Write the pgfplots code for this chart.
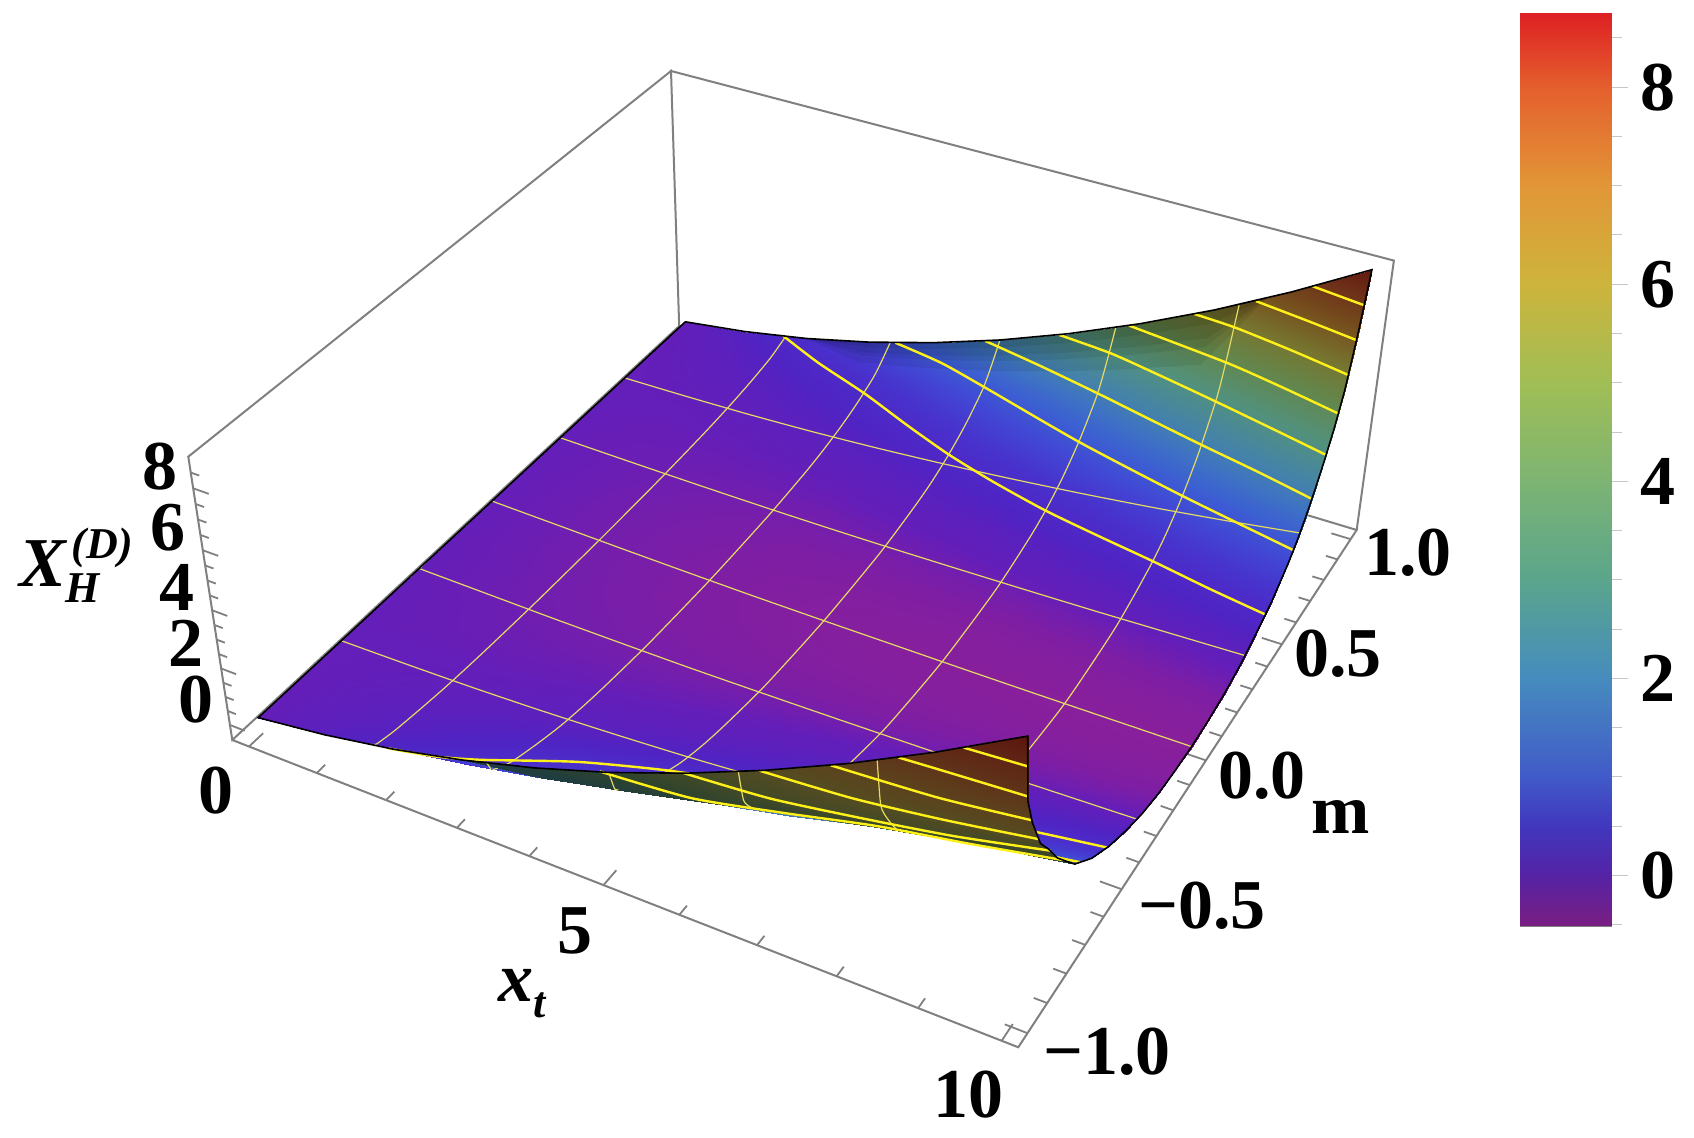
\documentclass[border=0pt]{standalone}
\usepackage{fontspec}
\setmainfont{Liberation Serif}
\usepackage{pgfplots}
\usepackage{pgfplotstable}
\pgfplotsset{compat=1.18}
\definecolor{boxgray}{RGB}{128,128,128}
\definecolor{thinY}{RGB}{228,218,100}
\definecolor{thickY}{RGB}{255,240,25}
\pgfplotsset{
 colormap={topmap}{rgb255(0pt)=(142,32,150) rgb255(2pt)=(125,30,165) rgb255(4pt)=(100,30,185) rgb255(8pt)=(80,35,195) rgb255(13pt)=(72,50,205) rgb255(18pt)=(65,72,212) rgb255(23pt)=(60,95,210) rgb255(28pt)=(62,115,195) rgb255(33pt)=(68,130,170) rgb255(43pt)=(82,145,125) rgb255(53pt)=(98,135,78) rgb255(63pt)=(118,118,48) rgb255(73pt)=(118,82,30) rgb255(83pt)=(110,50,25) rgb255(92pt)=(100,22,15)},
 colormap={flapmap}{rgb255(0pt)=(35,55,95) rgb255(13pt)=(32,58,78) rgb255(23pt)=(32,62,62) rgb255(33pt)=(48,68,45) rgb255(43pt)=(68,74,38) rgb255(53pt)=(85,75,32) rgb255(63pt)=(92,65,28) rgb255(73pt)=(95,50,25) rgb255(83pt)=(95,35,20) rgb255(92pt)=(92,22,14)},
 colormap={barmap}{rgb255(0pt)=(122,30,130) rgb255(5pt)=(85,35,165) rgb255(10pt)=(65,55,190) rgb255(15pt)=(65,90,200) rgb255(25pt)=(70,140,190) rgb255(35pt)=(90,165,140) rgb255(45pt)=(125,180,115) rgb255(55pt)=(160,190,85) rgb255(65pt)=(205,180,60) rgb255(75pt)=(226,150,55) rgb255(85pt)=(228,95,45) rgb255(92pt)=(222,32,36)},
}
\newcommand{\PX}{(542.276+64.105*\thisrow{x}+284.14*\thisrow{m}-6.004*\thisrow{z})/(1.10188-0.010939*\thisrow{x}+0.103831*\thisrow{m}-0.007394*\thisrow{z})}
\newcommand{\PY}{(555.062+17.961*\thisrow{x}-163.98*\thisrow{m}-33.071*\thisrow{z})/(1.10188-0.010939*\thisrow{x}+0.103831*\thisrow{m}-0.007394*\thisrow{z})}
\newcommand{\bigf}{\fontsize{35}{35}\selectfont\bfseries}
\newcommand{\subf}{\fontsize{22}{22}\selectfont}
\pgfplotstableread[row sep=\\]{
x m z\\
0 1 0.1\\1 1 0.42\\2 1 0.86\\3 1 1.43\\4 1 2.12\\5 1 2.93\\6 1 3.87\\7 1 4.93\\8 1 6.11\\9 1 7.42\\10 1 8.85\\
0 0.95 0.1\\1 0.95 0.34\\2 0.95 0.67\\3 0.95 1.11\\4 0.95 1.65\\5 0.95 2.29\\6 0.95 3.03\\7 0.95 3.86\\8 0.95 4.80\\9 0.95 5.84\\10 0.95 6.97\\
0 0.9 0.1\\1 0.9 0.27\\2 0.9 0.52\\3 0.9 0.85\\4 0.9 1.26\\5 0.9 1.75\\6 0.9 2.33\\7 0.9 2.98\\8 0.9 3.71\\9 0.9 4.53\\10 0.9 5.42\\
0 0.85 0.1\\1 0.85 0.23\\2 0.85 0.42\\3 0.85 0.68\\4 0.85 1.01\\5 0.85 1.41\\6 0.85 1.88\\7 0.85 2.42\\8 0.85 3.02\\9 0.85 3.69\\10 0.85 4.42\\
0 0.8 0.1\\1 0.8 0.20\\2 0.8 0.34\\3 0.8 0.55\\4 0.8 0.82\\5 0.8 1.14\\6 0.8 1.53\\7 0.8 1.97\\8 0.8 2.47\\9 0.8 3.03\\10 0.8 3.64\\
0 0.75 0.1\\1 0.75 0.17\\2 0.75 0.28\\3 0.75 0.44\\4 0.75 0.65\\5 0.75 0.91\\6 0.75 1.23\\7 0.75 1.59\\8 0.75 2.0\\9 0.75 2.46\\10 0.75 2.97\\
0 0.7 0.1\\1 0.7 0.14\\2 0.7 0.22\\3 0.7 0.34\\4 0.7 0.50\\5 0.7 0.71\\6 0.7 0.96\\7 0.7 1.25\\8 0.7 1.58\\9 0.7 1.96\\10 0.7 2.37\\
0 0.65 0.1\\1 0.65 0.12\\2 0.65 0.17\\3 0.65 0.25\\4 0.65 0.37\\5 0.65 0.54\\6 0.65 0.74\\7 0.65 0.97\\8 0.65 1.23\\9 0.65 1.54\\10 0.65 1.87\\
0 0.6 0.1\\1 0.6 0.10\\2 0.6 0.13\\3 0.6 0.19\\4 0.6 0.27\\5 0.6 0.40\\6 0.6 0.56\\7 0.6 0.74\\8 0.6 0.96\\9 0.6 1.20\\10 0.6 1.47\\
0 0.5 0.1\\1 0.5 0.08\\2 0.5 0.07\\3 0.5 0.09\\4 0.5 0.12\\5 0.5 0.20\\6 0.5 0.29\\7 0.5 0.40\\8 0.5 0.54\\9 0.5 0.70\\10 0.5 0.87\\
0 0.4 0.1\\1 0.4 0.06\\2 0.4 0.03\\3 0.4 0.02\\4 0.4 0.02\\5 0.4 0.06\\6 0.4 0.11\\7 0.4 0.17\\8 0.4 0.25\\9 0.4 0.35\\10 0.4 0.46\\
0 0.3 0.1\\1 0.3 0.05\\2 0.3 0\\3 0.3 -0.04\\4 0.3 -0.06\\5 0.3 -0.06\\6 0.3 -0.04\\7 0.3 -0.02\\8 0.3 0.02\\9 0.3 0.07\\10 0.3 0.13\\
0 0.2 0.1\\1 0.2 0.04\\2 0.2 -0.03\\3 0.2 -0.07\\4 0.2 -0.11\\5 0.2 -0.13\\6 0.2 -0.13\\7 0.2 -0.14\\8 0.2 -0.13\\9 0.2 -0.10\\10 0.2 -0.08\\
0 0.1 0.1\\1 0.1 0.03\\2 0.1 -0.04\\3 0.1 -0.09\\4 0.1 -0.14\\5 0.1 -0.17\\6 0.1 -0.18\\7 0.1 -0.2\\8 0.1 -0.2\\9 0.1 -0.2\\10 0.1 -0.19\\
0 0 0.1\\1 0 0.03\\2 0 -0.04\\3 0 -0.1\\4 0 -0.15\\5 0 -0.18\\6 0 -0.2\\7 0 -0.22\\8 0 -0.23\\9 0 -0.23\\10 0 -0.23\\
0 -0.1 0.1\\1 -0.1 0.03\\2 -0.1 -0.04\\3 -0.1 -0.1\\4 -0.1 -0.14\\5 -0.1 -0.17\\6 -0.1 -0.19\\7 -0.1 -0.2\\8 -0.1 -0.21\\9 -0.1 -0.21\\10 -0.1 -0.2\\
0 -0.2 0.1\\1 -0.2 0.04\\2 -0.2 -0.03\\3 -0.2 -0.08\\4 -0.2 -0.12\\5 -0.2 -0.14\\6 -0.2 -0.15\\7 -0.2 -0.15\\8 -0.2 -0.14\\9 -0.2 -0.13\\10 -0.2 -0.11\\
0 -0.3 0.1\\1 -0.3 0.04\\2 -0.3 -0.01\\3 -0.3 -0.05\\4 -0.3 -0.08\\5 -0.3 -0.08\\6 -0.3 -0.07\\7 -0.3 -0.05\\8 -0.3 -0.02\\9 -0.3 0.02\\10 -0.3 0.07\\
0 -0.4 0.1\\1 -0.4 0.06\\2 -0.4 0.02\\3 -0.4 0\\4 -0.4 0\\5 -0.4 0.03\\6 -0.4 0.07\\7 -0.4 0.13\\8 -0.4 0.19\\9 -0.4 0.28\\10 -0.4 0.38\\
0 -0.5 0.1\\1 -0.5 0.07\\2 -0.5 0.06\\3 -0.5 0.07\\4 -0.5 0.10\\5 -0.5 0.16\\6 -0.5 0.25\\7 -0.5 0.35\\8 -0.5 0.47\\9 -0.5 0.61\\10 -0.5 0.77\\
0 -0.6 0.1\\1 -0.6 0.10\\2 -0.6 0.11\\3 -0.6 0.16\\4 -0.6 0.23\\5 -0.6 0.34\\6 -0.6 0.48\\7 -0.6 0.65\\8 -0.6 0.84\\9 -0.6 1.06\\10 -0.6 1.30\\
0 -0.65 0.1\\1 -0.65 0.11\\2 -0.65 0.15\\3 -0.65 0.22\\4 -0.65 0.32\\5 -0.65 0.47\\6 -0.65 0.65\\7 -0.65 0.86\\8 -0.65 1.10\\9 -0.65 1.37\\10 -0.65 1.67\\
0 -0.7 0.1\\1 -0.7 0.13\\2 -0.7 0.19\\3 -0.7 0.28\\4 -0.7 0.42\\5 -0.7 0.60\\6 -0.7 0.82\\7 -0.7 1.07\\8 -0.7 1.36\\9 -0.7 1.69\\10 -0.7 2.05\\
0 -0.75 0.1\\1 -0.75 0.15\\2 -0.75 0.24\\3 -0.75 0.38\\4 -0.75 0.56\\5 -0.75 0.80\\6 -0.75 1.08\\7 -0.75 1.40\\8 -0.75 1.76\\9 -0.75 2.17\\10 -0.75 2.62\\
0 -0.8 0.1\\1 -0.8 0.18\\2 -0.8 0.30\\3 -0.8 0.48\\4 -0.8 0.71\\5 -0.8 1.0\\6 -0.8 1.34\\7 -0.8 1.73\\8 -0.8 2.17\\9 -0.8 2.66\\10 -0.8 3.2\\
0 -0.85 0.1\\1 -0.85 0.21\\2 -0.85 0.37\\3 -0.85 0.60\\4 -0.85 0.89\\5 -0.85 1.25\\6 -0.85 1.67\\7 -0.85 2.15\\8 -0.85 2.69\\9 -0.85 3.29\\10 -0.85 3.95\\
0 -0.9 0.1\\1 -0.9 0.24\\2 -0.9 0.44\\3 -0.9 0.72\\4 -0.9 1.06\\5 -0.9 1.48\\6 -0.9 1.97\\7 -0.9 2.53\\8 -0.9 3.16\\9 -0.9 3.86\\10 -0.9 4.62\\
0 -0.95 0.1\\1 -0.95 0.29\\2 -0.95 0.55\\3 -0.95 0.91\\4 -0.95 1.35\\5 -0.95 1.87\\6 -0.95 2.48\\7 -0.95 3.17\\8 -0.95 3.95\\9 -0.95 4.81\\10 -0.95 5.75\\
0 -0.98 0.1\\1 -0.98 0.33\\2 -0.98 0.65\\3 -0.98 1.07\\4 -0.98 1.58\\5 -0.98 2.19\\6 -0.98 2.91\\7 -0.98 3.71\\8 -0.98 4.61\\9 -0.98 5.61\\10 -0.98 6.7\\
0 -1 0.1\\1 -1 0.42\\2 -1 0.86\\3 -1 1.43\\4 -1 2.12\\5 -1 2.93\\6 -1 3.87\\7 -1 4.93\\8 -1 6.11\\9 -1 7.42\\10 -1 8.85\\
}\mainT
\pgfplotstableread[row sep=\\]{
x m z\\
3 -1 1.43\\4 -0.98 1.58\\5 -0.965 2.03\\6 -0.93 2.28\\7 -0.91 2.66\\8 -0.88 2.97\\9 -0.79 2.56\\10 -0.71 2.16\\
3 -1 1.43\\4 -0.983 1.66\\5 -0.97 2.08\\6 -0.94 2.38\\7 -0.92 2.79\\8 -0.9 3.16\\9 -0.82 2.91\\10 -0.75 2.62\\
3 -1 1.43\\4 -0.986 1.74\\5 -0.975 2.14\\6 -0.95 2.48\\7 -0.93 2.92\\8 -0.92 3.48\\9 -0.85 3.29\\10 -0.8 3.2\\
3 -1 1.43\\4 -0.989 1.82\\5 -0.98 2.19\\6 -0.96 2.62\\7 -0.94 3.04\\8 -0.94 3.79\\9 -0.9 3.86\\10 -0.85 3.95\\
3 -1 1.43\\4 -0.992 1.89\\5 -0.985 2.37\\6 -0.97 2.77\\7 -0.95 3.17\\8 -0.95 3.95\\9 -0.93 4.43\\10 -0.9 4.62\\
3 -1 1.43\\4 -0.995 1.97\\5 -0.99 2.56\\6 -0.975 2.84\\7 -0.965 3.44\\8 -0.97 4.39\\9 -0.95 4.81\\10 -0.95 5.75\\
3 -1 1.43\\4 -0.998 2.04\\5 -0.995 2.74\\6 -0.98 2.91\\7 -0.98 3.71\\8 -0.98 4.61\\9 -0.98 5.61\\10 -0.98 6.7\\
3 -1 1.43\\4 -1 2.12\\5 -1 2.93\\6 -1 3.87\\7 -1 4.93\\8 -1 6.11\\9 -1 7.42\\10 -1 8.85\\
}\flapT
\pgfkeys{/pgfplots/table/pr/.style={/pgfplots/table/x expr=\PX,/pgfplots/table/y expr=\PY,/pgfplots/table/row sep=\\}}
\pgfplotsset{
 thinl/.style={no marks,line width=0.6pt,color=thinY,smooth,tension=0.4},
 thickl/.style={no marks,line width=1.2pt,color=thickY,smooth,tension=0.4},
 edgel/.style={no marks,line width=0.8pt,color=black},
 shade/.style={no marks,draw=none,fill=black,fill opacity=0.07},
}
\begin{document}
\begin{tikzpicture}
\useasboundingbox (0,0) rectangle (847pt,569pt);
\begin{axis}[scale only axis,width=847pt,height=569pt,xmin=0,xmax=1694,ymin=0,ymax=1138,y dir=reverse,hide axis,clip=false,point meta min=-0.3,point meta max=8.9,z buffer=none]
% box
\addplot[no marks,line width=1pt,color=boxgray] table[pr]{x m z\\
-0.25 -1.046 -0.541\\10.196 -1.046 -0.541\\10.196 1.046 -0.541\\-0.25 1.046 -0.541\\-0.25 -1.046 -0.541\\-0.25 -1.046 9\\-0.25 1.046 9\\-0.25 1.046 -0.541\\-0.25 1.046 9\\10.196 1.046 9\\10.196 1.046 -0.541\\};
% ticks
\addplot[no marks,line width=0.9pt,color=boxgray,unbounded coords=jump] table[pr]{x m z\\
0 -1.046 -0.541\\0 -0.991 -0.541\\nan nan nan\\1 -1.046 -0.541\\1 -1.013 -0.541\\nan nan nan\\2 -1.046 -0.541\\2 -1.013 -0.541\\nan nan nan\\3 -1.046 -0.541\\3 -1.013 -0.541\\nan nan nan\\4 -1.046 -0.541\\4 -1.013 -0.541\\nan nan nan\\5 -1.046 -0.541\\5 -0.991 -0.541\\nan nan nan\\6 -1.046 -0.541\\6 -1.013 -0.541\\nan nan nan\\7 -1.046 -0.541\\7 -1.013 -0.541\\nan nan nan\\8 -1.046 -0.541\\8 -1.013 -0.541\\nan nan nan\\9 -1.046 -0.541\\9 -1.013 -0.541\\nan nan nan\\10 -1.046 -0.541\\10 -0.991 -0.541\\nan nan nan\\
10.196 -1 -0.541\\9.926 -1 -0.541\\nan nan nan\\10.196 -0.9 -0.541\\10.036 -0.9 -0.541\\nan nan nan\\10.196 -0.8 -0.541\\10.036 -0.8 -0.541\\nan nan nan\\10.196 -0.7 -0.541\\10.036 -0.7 -0.541\\nan nan nan\\10.196 -0.6 -0.541\\10.036 -0.6 -0.541\\nan nan nan\\10.196 -0.5 -0.541\\9.926 -0.5 -0.541\\nan nan nan\\10.196 -0.4 -0.541\\10.036 -0.4 -0.541\\nan nan nan\\10.196 -0.3 -0.541\\10.036 -0.3 -0.541\\nan nan nan\\10.196 -0.2 -0.541\\10.036 -0.2 -0.541\\nan nan nan\\10.196 -0.1 -0.541\\10.036 -0.1 -0.541\\nan nan nan\\10.196 0 -0.541\\9.926 0 -0.541\\nan nan nan\\10.196 0.1 -0.541\\10.036 0.1 -0.541\\nan nan nan\\10.196 0.2 -0.541\\10.036 0.2 -0.541\\nan nan nan\\10.196 0.3 -0.541\\10.036 0.3 -0.541\\nan nan nan\\10.196 0.4 -0.541\\10.036 0.4 -0.541\\nan nan nan\\10.196 0.5 -0.541\\9.926 0.5 -0.541\\nan nan nan\\10.196 0.6 -0.541\\10.036 0.6 -0.541\\nan nan nan\\10.196 0.7 -0.541\\10.036 0.7 -0.541\\nan nan nan\\10.196 0.8 -0.541\\10.036 0.8 -0.541\\nan nan nan\\10.196 0.9 -0.541\\10.036 0.9 -0.541\\nan nan nan\\10.196 1 -0.541\\9.926 1 -0.541\\nan nan nan\\
-0.25 -1.046 0\\-0.03 -1.046 0\\nan nan nan\\-0.25 -1.046 0.5\\-0.13 -1.046 0.5\\nan nan nan\\-0.25 -1.046 1\\-0.13 -1.046 1\\nan nan nan\\-0.25 -1.046 1.5\\-0.13 -1.046 1.5\\nan nan nan\\-0.25 -1.046 2\\-0.03 -1.046 2\\nan nan nan\\-0.25 -1.046 2.5\\-0.13 -1.046 2.5\\nan nan nan\\-0.25 -1.046 3\\-0.13 -1.046 3\\nan nan nan\\-0.25 -1.046 3.5\\-0.13 -1.046 3.5\\nan nan nan\\-0.25 -1.046 4\\-0.03 -1.046 4\\nan nan nan\\-0.25 -1.046 4.5\\-0.13 -1.046 4.5\\nan nan nan\\-0.25 -1.046 5\\-0.13 -1.046 5\\nan nan nan\\-0.25 -1.046 5.5\\-0.13 -1.046 5.5\\nan nan nan\\-0.25 -1.046 6\\-0.03 -1.046 6\\nan nan nan\\-0.25 -1.046 6.5\\-0.13 -1.046 6.5\\nan nan nan\\-0.25 -1.046 7\\-0.13 -1.046 7\\nan nan nan\\-0.25 -1.046 7.5\\-0.13 -1.046 7.5\\nan nan nan\\-0.25 -1.046 8\\-0.03 -1.046 8\\nan nan nan\\-0.25 -1.046 8.5\\-0.13 -1.046 8.5\\};
% surface, seen from above
\addplot[surf,shader=interp,colormap name=topmap,mesh/rows=30,point meta=\thisrow{z}] table[x expr=\PX,y expr=\PY]{\mainT};
% darker strips along the far edge
\addplot[shade] table[pr]{x m z\\2 1 0.86\\3 1 1.43\\4 1 2.12\\5 1 2.93\\6 1 3.87\\7 1 4.93\\8 1 6.11\\8.7 1 7.03\\8 0.94 4.58\\7 0.94 3.69\\6 0.94 2.89\\5 0.94 2.18\\4 0.94 1.57\\3 0.94 1.06\\2 1 0.86\\};
\addplot[shade] table[pr]{x m z\\2 1 0.86\\3 1 1.43\\4 1 2.12\\5 1 2.93\\6 1 3.87\\7 1 4.93\\8 1 6.11\\8.7 1 7.03\\8 0.96 5.06\\7 0.96 4.08\\6 0.96 3.19\\5 0.96 2.41\\4 0.96 1.74\\3 0.96 1.18\\2 1 0.86\\};
\addplot[shade] table[pr]{x m z\\2 1 0.86\\3 1 1.43\\4 1 2.12\\5 1 2.93\\6 1 3.87\\7 1 4.93\\8 1 6.11\\8.7 1 7.03\\8 0.97 5.32\\7 0.97 4.29\\6 0.97 3.37\\5 0.97 2.54\\4 0.97 1.84\\3 0.97 1.24\\2 1 0.86\\};
\addplot[shade] table[pr]{x m z\\2 1 0.86\\3 1 1.43\\4 1 2.12\\5 1 2.93\\6 1 3.87\\7 1 4.93\\8 1 6.11\\8.7 1 7.03\\8 0.985 5.72\\7 0.985 4.61\\6 0.985 3.62\\5 0.985 2.74\\4 0.985 1.98\\3 0.985 1.335\\2 1 0.86\\};
% mesh lines m = const
\addplot[thinl] table[pr]{x m z\\0 0.667 0.1\\1 0.667 0.13\\2 0.667 0.185\\3 0.667 0.28\\4 0.667 0.42\\5 0.667 0.60\\6 0.667 0.82\\7 0.667 1.07\\8 0.667 1.355\\9 0.667 1.68\\10 0.667 2.04\\};
\addplot[thinl] table[pr]{x m z\\0 0.333 0.1\\1 0.333 0.05\\2 0.333 0.01\\3 0.333 -0.02\\4 0.333 -0.03\\5 0.333 -0.02\\6 0.333 0.01\\7 0.333 0.05\\8 0.333 0.10\\9 0.333 0.17\\10 0.333 0.24\\};
\addplot[thinl] table[pr]{x m z\\0 0 0.1\\1 0 0.03\\2 0 -0.04\\3 0 -0.1\\4 0 -0.15\\5 0 -0.18\\6 0 -0.2\\7 0 -0.22\\8 0 -0.23\\9 0 -0.23\\10 0 -0.23\\};
\addplot[thinl] table[pr]{x m z\\0 -0.333 0.1\\1 -0.333 0.05\\2 -0.333 0\\3 -0.333 -0.03\\4 -0.333 -0.05\\5 -0.333 -0.04\\6 -0.333 -0.02\\7 -0.333 0.01\\8 -0.333 0.05\\9 -0.333 0.11\\10 -0.333 0.17\\};
\addplot[thinl] table[pr]{x m z\\0 -0.667 0.1\\1 -0.667 0.12\\2 -0.667 0.16\\3 -0.667 0.24\\4 -0.667 0.36\\5 -0.667 0.51\\6 -0.667 0.71\\7 -0.667 0.93\\8 -0.667 1.18\\9 -0.667 1.48\\10 -0.667 1.79\\};
% mesh lines x = const
\addplot[thinl] table[pr]{x m z\\1.667 1 0.713\\1.667 0.95 0.562\\1.667 0.9 0.437\\1.667 0.8 0.294\\1.667 0.7 0.192\\1.667 0.6 0.12\\1.667 0.5 0.071\\1.667 0.3 0.012\\1.667 0 -0.017\\1.667 -0.3 0.007\\1.667 -0.5 0.063\\1.667 -0.6 0.106\\1.667 -0.7 0.166\\1.667 -0.8 0.259\\1.667 -0.9 0.373\\1.667 -0.95 0.464\\1.667 -0.98 0.54\\1.667 -1 0.713\\};
\addplot[thinl] table[pr]{x m z\\3.333 1 1.66\\3.333 0.95 1.29\\3.333 0.9 0.988\\3.333 0.8 0.64\\3.333 0.7 0.391\\3.333 0.6 0.215\\3.333 0.5 0.098\\3.333 0.3 -0.047\\3.333 0 -0.117\\3.333 -0.3 -0.058\\3.333 -0.5 0.078\\3.333 -0.6 0.182\\3.333 -0.7 0.329\\3.333 -0.8 0.555\\3.333 -0.9 0.832\\3.333 -0.95 1.054\\3.333 -0.98 1.24\\};
\addplot[thinl] table[pr]{x m z\\5 1 2.93\\5 0.95 2.29\\5 0.9 1.75\\5 0.8 1.14\\5 0.7 0.71\\5 0.6 0.40\\5 0.5 0.20\\5 0.3 -0.06\\5 0 -0.18\\5 -0.3 -0.08\\5 -0.5 0.16\\5 -0.6 0.34\\5 -0.7 0.60\\5 -0.8 1.0\\5 -0.9 1.48\\5 -0.95 1.87\\};
\addplot[thinl] table[pr]{x m z\\6.667 1 4.58\\6.667 0.95 3.585\\6.667 0.9 2.77\\6.667 0.8 1.83\\6.667 0.7 1.157\\6.667 0.6 0.683\\6.667 0.5 0.367\\6.667 0.3 -0.023\\6.667 0 -0.213\\6.667 -0.3 -0.055\\6.667 -0.5 0.31\\6.667 -0.6 0.59\\6.667 -0.7 0.99\\6.667 -0.8 1.6\\6.667 -0.9 2.35\\};
\addplot[thinl] table[pr]{x m z\\8.333 1 6.547\\8.333 0.95 5.144\\8.333 0.9 3.985\\8.333 0.8 2.657\\8.333 0.7 1.708\\8.333 0.6 1.037\\8.333 0.5 0.59\\8.333 0.3 0.038\\8.333 0 -0.23\\8.333 -0.3 -0.006\\8.333 -0.5 0.515\\8.333 -0.6 0.91\\8.333 -0.7 1.47\\8.333 -0.8 2.33\\};
% contours on the upper side
\addplot[thickl] table[pr]{x m z\\1.62 1 0.7\\2.4 0.925 0.7\\3.33 0.851 0.7\\4.2 0.77 0.7\\5 0.701 0.7\\5.8 0.645 0.7\\6.67 0.595 0.7\\7.5 0.56 0.7\\8.33 0.528 0.7\\9.2 0.49 0.7\\10 0.46 0.7\\};
\addplot[thickl] table[pr]{x m z\\3.41 1 1.7\\4.2 0.97 1.7\\5 0.918 1.7\\6.67 0.804 1.7\\8.33 0.711 1.7\\10 0.63 1.7\\};
\addplot[thickl] table[pr]{x m z\\4.78 1 2.74\\5.7 0.96 2.74\\6.67 0.912 2.74\\7.5 0.867 2.74\\8.33 0.823 2.74\\9.2 0.78 2.74\\10 0.736 2.74\\};
\addplot[thickl] table[pr]{x m z\\5.86 1 3.73\\6.67 0.983 3.73\\7.5 0.945 3.73\\8.33 0.904 3.73\\9.2 0.858 3.73\\10 0.8145 3.73\\};
\addplot[thickl] table[pr]{x m z\\6.85 1 4.76\\8.33 0.957 4.76\\9.2 0.917 4.76\\10 0.875 4.76\\};
\addplot[thickl] table[pr]{x m z\\7.74 1 5.79\\8.33 0.99 5.79\\9.2 0.957 5.79\\10 0.92 5.79\\};
\addplot[thickl] table[pr]{x m z\\8.55 1 6.8\\9.3 0.975 6.8\\10 0.949 6.8\\};
\addplot[thickl] table[pr]{x m z\\9.27 1 7.8\\10 0.977 7.8\\};
\addplot[thickl] table[pr]{x m z\\1.93 -1 0.82\\2.5 -0.971 0.82\\3 -0.93 0.82\\4 -0.83 0.82\\5 -0.756 0.82\\6 -0.70 0.82\\7 -0.641 0.82\\8 -0.596 0.82\\9 -0.547 0.82\\10 -0.51 0.82\\};
\addplot[thickl] table[pr]{x m z\\3.55 -1 1.8\\4 -0.988 1.8\\5 -0.94 1.8\\6 -0.87 1.8\\7 -0.81 1.8\\8 -0.755 1.8\\9 -0.71 1.8\\10 -0.667 1.8\\};
% the flap, seen from below
\addplot[surf,shader=interp,colormap name=flapmap,mesh/rows=8,point meta=\thisrow{z}] table[x expr=\PX,y expr=\PY]{\flapT};
\addplot[thinl] table[pr]{x m z\\3.333 -1 1.66\\3.333 -0.985 1.3\\};
\addplot[thinl] table[pr]{x m z\\5 -1 2.93\\5 -0.98 2.19\\5 -0.965 2.03\\};
\addplot[thinl] table[pr]{x m z\\6.667 -1 4.58\\6.667 -0.98 3.44\\6.667 -0.95 2.94\\6.667 -0.92 2.58\\};
\addplot[thinl] table[pr]{x m z\\8.333 -1 6.55\\8.333 -0.98 4.94\\8.333 -0.95 4.24\\8.333 -0.9 3.39\\8.333 -0.85 2.89\\};
\addplot[thickl] table[pr]{x m z\\4.88 -1 2.85\\6 -0.979 2.85\\7 -0.925 2.85\\8 -0.865 2.85\\9 -0.82 2.85\\10 -0.77 2.85\\};
\addplot[thickl] table[pr]{x m z\\5.98 -1 3.85\\7 -0.982 3.85\\8 -0.944 3.85\\9 -0.90 3.85\\10 -0.843 3.85\\};
\addplot[thickl] table[pr]{x m z\\6.93 -1 4.85\\8 -0.983 4.85\\9 -0.951 4.85\\10 -0.91 4.85\\};
\addplot[thickl] table[pr]{x m z\\7.79 -1 5.85\\9 -0.983 5.85\\10 -0.953 5.85\\};
\addplot[thickl] table[pr]{x m z\\8.58 -1 6.85\\9 -0.994 6.85\\10 -0.981 6.85\\};
\addplot[thickl] table[pr]{x m z\\9.31 -1 7.85\\10 -0.99 7.85\\};
% black outline
\addplot[edgel] table[pr]{x m z\\0 1 0.1\\1 1 0.42\\2 1 0.86\\3 1 1.43\\4 1 2.12\\5 1 2.93\\6 1 3.87\\7 1 4.93\\8 1 6.11\\9 1 7.42\\10 1 8.85\\10 0.95 6.97\\10 0.9 5.42\\10 0.85 4.42\\10 0.8 3.64\\10 0.75 2.97\\10 0.7 2.37\\10 0.65 1.87\\10 0.6 1.47\\10 0.5 0.87\\10 0.4 0.46\\10 0.3 0.13\\10 0.2 -0.08\\10 0.1 -0.19\\10 0 -0.23\\10 -0.1 -0.2\\10 -0.2 -0.11\\10 -0.3 0.07\\10 -0.4 0.38\\10 -0.5 0.77\\10 -0.6 1.30\\10 -0.65 1.67\\10 -0.7 2.05\\10 -0.75 2.62\\10 -0.8 3.2\\10 -0.85 3.95\\10 -0.9 4.62\\10 -0.95 5.75\\10 -0.98 6.7\\10 -1 8.85\\9 -1 7.42\\8 -1 6.11\\7 -1 4.93\\6 -1 3.87\\5 -1 2.93\\4 -1 2.12\\3 -1 1.43\\2 -1 0.86\\1 -1 0.42\\0 -1 0.1\\0 1 0.1\\};
% labels
\node[font=\bigf] at (axis cs:160,467) {8};
\node[font=\bigf] at (axis cs:168,528) {6};
\node[font=\bigf] at (axis cs:177,587) {4};
\node[font=\bigf] at (axis cs:186,643) {2};
\node[font=\bigf] at (axis cs:196,700) {0};
\node[font=\bigf] at (axis cs:216,791) {0};
\node[font=\bigf] at (axis cs:575,931) {5};
\node[font=\bigf] at (axis cs:968,1095) {10};
\node[font=\bigf] at (axis cs:1107,1052) {−1.0};
\node[font=\bigf] at (axis cs:1202,906) {−0.5};
\node[font=\bigf] at (axis cs:1262,776) {0.0};
\node[font=\bigf] at (axis cs:1338,654) {0.5};
\node[font=\bigf] at (axis cs:1408,553) {1.0};
\node[font=\bigf] at (axis cs:1341,817) {m};
\node[font=\bigf\itshape] at (axis cs:522,994) {x\raisebox{-8pt}{\subf t}};
\node[font=\bigf\itshape] at (axis cs:76,565) {X\rlap{\raisebox{-8pt}{\subf H}}\raisebox{14pt}{\subf\kern3pt(D)}};
\end{axis}
\begin{axis}[at={(760pt,106pt)},anchor=south west,scale only axis,width=45.85pt,height=456.35pt,xmin=0,xmax=1,ymin=-0.513,ymax=8.75,xtick=\empty,ytick={0,2,4,6,8},yticklabels={0,2,4,6,8},minor ytick={-0.5,0.5,1,1.5,2.5,3,3.5,4.5,5,5.5,6.5,7,7.5,8.5},ytick pos=right,yticklabel pos=right,tick align=outside,major tick length=8pt,minor tick length=5pt,tick style={color=gray!45,line width=0.5pt},axis line style={color=gray,line width=0.4pt},yticklabel style={font=\bigf,xshift=3pt},point meta min=-0.5,point meta max=8.7]
\addplot[surf,shader=interp,colormap name=barmap,point meta=y] coordinates {
(0,-0.513) (1,-0.513)

(0,0) (1,0)

(0,0.5) (1,0.5)

(0,1) (1,1)

(0,2) (1,2)

(0,3) (1,3)

(0,4) (1,4)

(0,5) (1,5)

(0,6) (1,6)

(0,7) (1,7)

(0,8) (1,8)

(0,8.75) (1,8.75)
};
\end{axis}
\end{tikzpicture}
\end{document}
